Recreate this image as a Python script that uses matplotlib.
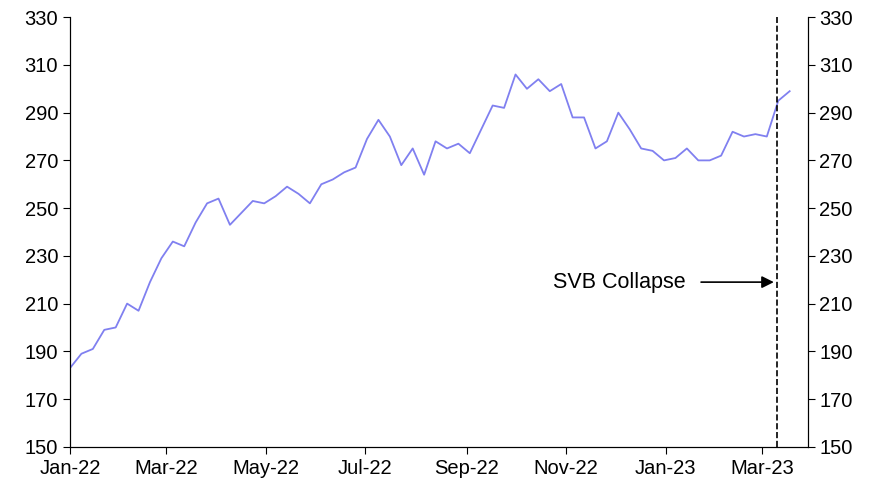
import matplotlib
matplotlib.use('Agg')
import matplotlib.pyplot as plt
import matplotlib.dates as mdates
import numpy as np
import pandas as pd

plt.rcParams['font.family'] = ['Liberation Sans', 'DejaVu Sans']

# weekly index values
values = [183, 189, 191, 199, 200, 210, 207, 219, 229, 236, 234, 244, 252, 254,
          243, 248, 253, 252, 255, 259, 256, 252, 260, 262, 265, 267, 279, 287,
          280, 268, 275, 264, 278, 275, 277, 273, 283, 293, 292, 306, 300, 304,
          299, 302, 288, 288, 275, 278, 290, 283, 275, 274, 270, 271, 275, 270,
          270, 272, 282, 280, 281, 280, 295, 299]
dates = pd.date_range('2022-01-01', periods=len(values), freq='7D')
svb_date = pd.Timestamp('2023-03-10')
tick_dates = pd.date_range('2022-01-01', '2023-03-01', freq='2MS')

fig = plt.figure(figsize=(8.75, 4.91), dpi=100)
ax = fig.add_axes([0.08, 0.09, 0.843, 0.875])
ax.plot(dates, values, color='#8080f0', linewidth=1.3)
ax.axvline(svb_date, color='black', linestyle='--', linewidth=1.2)
ax.annotate('', xy=(svb_date, 219), xytext=(pd.Timestamp('2023-01-21'), 219),
            arrowprops=dict(arrowstyle='-|>', color='black', lw=1.2, mutation_scale=18))
ax.text(pd.Timestamp('2023-01-13'), 219, 'SVB Collapse', ha='right', va='center', fontsize=15.5)

ax.set_xlim(pd.Timestamp('2022-01-01'), pd.Timestamp('2023-03-29'))
ax.set_ylim(150, 330)
ax.set_yticks(np.arange(150, 331, 20))
ax.set_xticks(tick_dates)
ax.xaxis.set_major_formatter(mdates.DateFormatter('%b-%y'))
ax.spines['top'].set_visible(False)
ax.tick_params(axis='both', labelsize=14.5, direction='out', length=5)
ax2 = ax.twinx()
ax2.set_ylim(150, 330)
ax2.set_yticks(np.arange(150, 331, 20))
ax2.spines['top'].set_visible(False)
ax2.tick_params(axis='y', labelsize=14.5, direction='out', length=5)

fig.savefig('out.png', dpi=100)
